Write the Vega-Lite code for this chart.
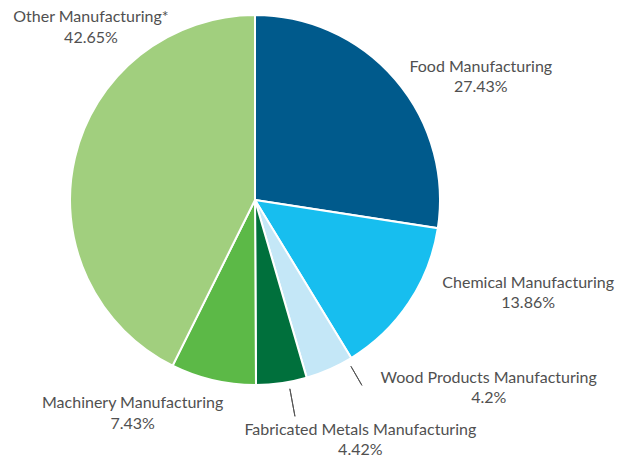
{
  "$schema": "https://vega.github.io/schema/vega-lite/v6.json",
  "width": 510,
  "height": 400,
  "autosize": {"type": "none"},
  "padding": {"left": 0, "top": 0, "right": 114, "bottom": 59},
  "background": "white",
  "view": {"stroke": null},
  "data": {
    "values": [
      {"category": "Food Manufacturing", "share": 27.43, "order": 1, "label": ["Food Manufacturing", "27.43%"]},
      {"category": "Chemical Manufacturing", "share": 13.86, "order": 2, "label": ["Chemical Manufacturing", "13.86%"]},
      {"category": "Wood Products Manufacturing", "share": 4.2, "order": 3, "label": ["Wood Products Manufacturing", "4.2%"]},
      {"category": "Fabricated Metals Manufacturing", "share": 4.42, "order": 4, "label": ["Fabricated Metals Manufacturing", "4.42%"]},
      {"category": "Machinery Manufacturing", "share": 7.43, "order": 5, "label": ["Machinery Manufacturing", "7.43%"]},
      {"category": "Other Manufacturing*", "share": 42.65, "order": 6, "label": ["Other Manufacturing*", "42.65%"]}
    ]
  },
  "encoding": {
    "theta": {"field": "share", "type": "quantitative", "stack": true},
    "order": {"field": "order", "type": "quantitative"}
  },
  "layer": [
    {
      "mark": {"type": "arc", "radius": 185, "stroke": "white", "strokeWidth": 2},
      "encoding": {
        "color": {
          "field": "category",
          "type": "nominal",
          "scale": {
            "domain": ["Food Manufacturing", "Chemical Manufacturing", "Wood Products Manufacturing", "Fabricated Metals Manufacturing", "Machinery Manufacturing", "Other Manufacturing*"],
            "range": ["#005A8C", "#17BEEF", "#C4E7F7", "#00703C", "#5CB947", "#A1CF7E"]
          },
          "legend": null
        }
      }
    },
    {
      "mark": {"type": "arc", "radius": 214, "radius2": 192, "thetaOffset": -0.1082, "padAngle": 1.5, "filled": false, "stroke": "#555555", "strokeWidth": 1},
      "encoding": {
        "opacity": {"condition": {"test": "datum.category === 'Wood Products Manufacturing'", "value": 1}, "value": 0}
      }
    },
    {
      "mark": {"type": "arc", "radius": 220, "radius2": 192, "thetaOffset": -0.0384, "padAngle": 1.5, "filled": false, "stroke": "#555555", "strokeWidth": 1},
      "encoding": {
        "opacity": {"condition": {"test": "datum.category === 'Fabricated Metals Manufacturing'", "value": 1}, "value": 0}
      }
    },
    {
      "mark": {"type": "text", "radius": 225, "dx": 55, "dy": 13, "align": "center", "baseline": "middle", "font": "Lato", "fontSize": 16, "lineHeight": 20.5, "fill": "#505050"},
      "encoding": {
        "text": {"field": "label", "type": "nominal"},
        "opacity": {"condition": {"test": "datum.category === 'Food Manufacturing'", "value": 1}, "value": 0}
      }
    },
    {
      "mark": {"type": "text", "radius": 225, "dx": 86, "dy": -42, "align": "center", "baseline": "middle", "font": "Lato", "fontSize": 16, "lineHeight": 20.5, "fill": "#505050"},
      "encoding": {
        "text": {"field": "label", "type": "nominal"},
        "opacity": {"condition": {"test": "datum.category === 'Chemical Manufacturing'", "value": 1}, "value": 0}
      }
    },
    {
      "mark": {"type": "text", "radius": 225, "dx": 143, "dy": -28, "align": "center", "baseline": "middle", "font": "Lato", "fontSize": 16, "lineHeight": 20.5, "fill": "#505050"},
      "encoding": {
        "text": {"field": "label", "type": "nominal"},
        "opacity": {"condition": {"test": "datum.category === 'Wood Products Manufacturing'", "value": 1}, "value": 0}
      }
    },
    {
      "mark": {"type": "text", "radius": 225, "dx": 73, "dy": 7.5, "align": "center", "baseline": "middle", "font": "Lato", "fontSize": 16, "lineHeight": 20, "fill": "#505050"},
      "encoding": {
        "text": {"field": "label", "type": "nominal"},
        "opacity": {"condition": {"test": "datum.category === 'Fabricated Metals Manufacturing'", "value": 1}, "value": 0}
      }
    },
    {
      "mark": {"type": "text", "radius": 225, "dx": -71.5, "dy": -16, "align": "center", "baseline": "middle", "font": "Lato", "fontSize": 16, "lineHeight": 20.5, "fill": "#505050"},
      "encoding": {
        "text": {"field": "label", "type": "nominal"},
        "opacity": {"condition": {"test": "datum.category === 'Machinery Manufacturing'", "value": 1}, "value": 0}
      }
    },
    {
      "mark": {"type": "text", "radius": 225, "dx": 55, "dy": -131.5, "align": "center", "baseline": "middle", "font": "Lato", "fontSize": 16, "lineHeight": 20.5, "fill": "#505050"},
      "encoding": {
        "text": {"field": "label", "type": "nominal"},
        "opacity": {"condition": {"test": "datum.category === 'Other Manufacturing*'", "value": 1}, "value": 0}
      }
    }
  ]
}
